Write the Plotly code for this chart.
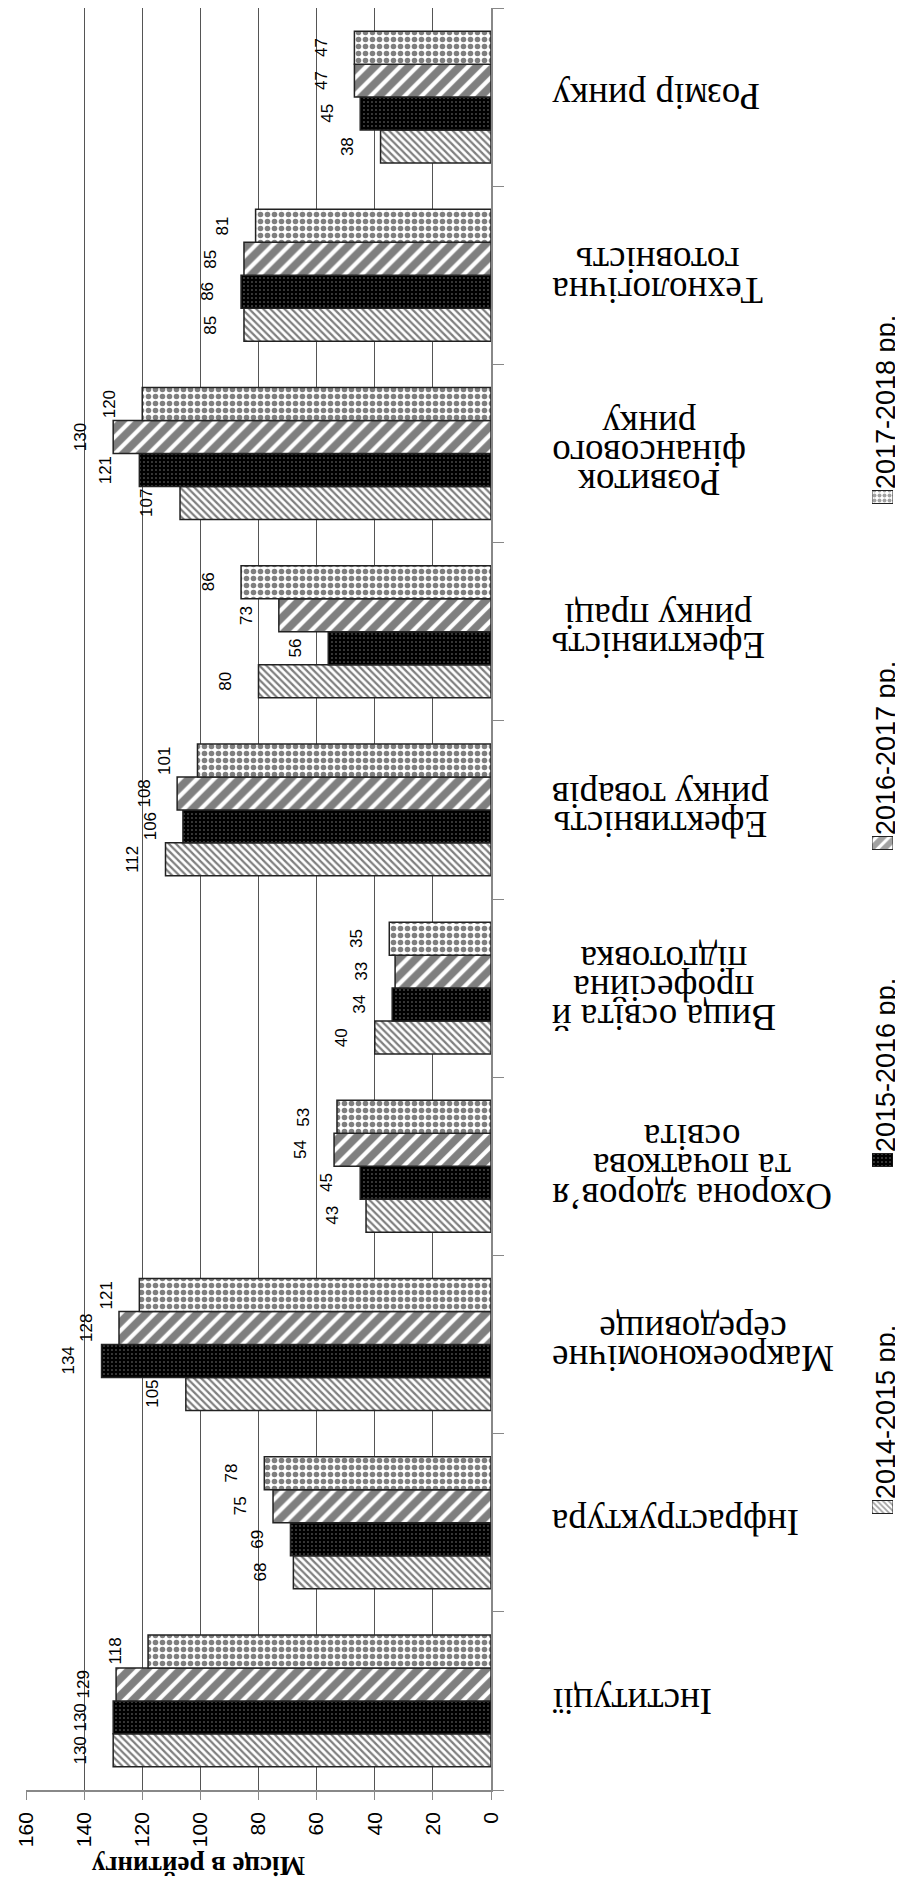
import plotly.graph_objects as go

# categories bottom -> top (the whole chart is turned on its side)
categories = ["Інституції", "Інфраструктура", "Макроекономічне середовище",
              "Охорона здоров’я та початкова освіта", "Вища освіта й професійна підготовка",
              "Ефективність ринку товарів", "Ефективність ринку праці",
              "Розвиток фінансового ринку", "Технологічна готовність", "Розмір ринку"]
cat_lines = [["Інституції"], ["Інфраструктура"], ["Макроекономічне", "середовище"],
             ["Охорона здоров’я", "та початкова", "освіта"],
             ["Вища освіта й", "професійна", "підготовка"],
             ["Ефективність", "ринку товарів"], ["Ефективність", "ринку праці"],
             ["Розвиток", "фінансового", "ринку"], ["Технологічна", "готовність"],
             ["Розмір ринку"]]

series_names = ["2014-2015 рр.", "2015-2016 рр.", "2016-2017 рр.", "2017-2018 рр."]
v2014 = [130, 68, 105, 43, 40, 112, 80, 107, 85, 38]
v2015 = [130, 69, 134, 45, 34, 106, 56, 121, 86, 45]
v2016 = [129, 75, 128, 54, 33, 108, 73, 130, 85, 47]
v2017 = [118, 78, 121, 53, 35, 101, 86, 120, 81, 47]
series_vals = [v2014, v2015, v2016, v2017]

x_ticks = [0, 20, 40, 60, 80, 100, 120, 140, 160]
axis_title = "Місце в рейтингу"

# page layout (page pixels; the html body adds an 8px margin)
OFF = 8
W, H = 903 - OFF, 1886 - OFF
PLOT_L, PLOT_R, PLOT_T, PLOT_B = 26, 491, 8, 1790
LEG_L, LEG_R = 872, 893
ML, MT = PLOT_L - OFF, PLOT_T - OFF
MR = W - (LEG_R - OFF)
MB = H - (PLOT_B - OFF)
PW, PH = W - ML - MR, H - MT - MB
BARGAP = 0.26
SANS = "Liberation Sans, Arial, sans-serif"
SERIF = "Liberation Serif, Times New Roman, serif"


def px_x(p):   # page x -> paper
    return (p - PLOT_L) / PW


def px_y(p):   # page y -> paper
    return (PLOT_B - p) / PH


bar_styles = [
    dict(color="white", pattern=dict(shape="\\", fgcolor="black", bgcolor="white", size=5, solidity=0.45)),
    dict(color="black", pattern=dict(shape=".", fgcolor="white", bgcolor="black", size=4, solidity=0.12)),
    dict(color="white", pattern=dict(shape="/", fgcolor="black", bgcolor="white", size=12, solidity=0.65)),
    dict(color="white", pattern=dict(shape=".", fgcolor="black", bgcolor="white", size=7, solidity=0.5)),
]
key_pos = [1507, 1160, 843, 497]   # legend key centres, page y

fig = go.Figure()
for name, vals, st in zip(series_names, series_vals, bar_styles):
    fig.add_trace(go.Bar(x=vals, y=categories, orientation="h", name=name,
                         marker=dict(color=st["color"], pattern=st["pattern"],
                                     line=dict(color="#222", width=1.5)),
                         showlegend=False))

# legend keys (tiny bars on their own axes)
fig.add_trace(go.Bar(
    x=[1] * 4, y=[px_y(p) for p in key_pos], width=[13 / PH] * 4, orientation="h",
    xaxis="x2", yaxis="y2", showlegend=False,
    marker=dict(color=[s["color"] for s in bar_styles],
                pattern=dict(shape=[s["pattern"]["shape"] for s in bar_styles],
                             fgcolor=[s["pattern"]["fgcolor"] for s in bar_styles],
                             bgcolor=[s["pattern"]["bgcolor"] for s in bar_styles],
                             size=[4, 4, 9, 5],
                             solidity=[s["pattern"]["solidity"] for s in bar_styles]),
                line=dict(color="#222", width=1))))

ann = []
bar_px = PH / len(categories) * (1 - BARGAP) / 4
for i, vals in enumerate(series_vals):
    for c, v in zip(categories, vals):
        ann.append(dict(x=v, y=c, xref="x", yref="y", text=str(v), showarrow=False,
                        textangle=-90, xanchor="center", yanchor="middle",
                        xshift=-33, yshift=(i - 1.5) * bar_px,
                        font=dict(family=SANS, size=17, color="black")))

for c, lines in zip(categories, cat_lines):
    txt = "<br>".join("<span style='font-size:37px'>%s</span>" % l for l in lines)
    ann.append(dict(x=px_x(550), y=c, xref="paper", yref="y", text=txt,
                    showarrow=False, textangle=180, xanchor="left", yanchor="middle",
                    align="center", font=dict(family=SERIF, size=22.5, color="black")))

for name, p in zip(series_names, key_pos):
    ann.append(dict(x=px_x(886), y=px_y(p - 95), xref="paper", yref="paper",
                    text=name, showarrow=False, textangle=-90, xanchor="center",
                    yanchor="middle", font=dict(family=SANS, size=27, color="black")))

ann.append(dict(x=px_x(198), y=px_y(1866), xref="paper", yref="paper",
                text="<b>%s</b>" % axis_title, showarrow=False, textangle=180,
                xanchor="center", yanchor="middle",
                font=dict(family=SERIF, size=27, color="black")))

fig.update_layout(
    width=W, height=H, margin=dict(l=ML, r=MR, t=MT, b=MB),
    paper_bgcolor="white", plot_bgcolor="white",
    barmode="group", bargap=BARGAP, bargroupgap=0,
    annotations=ann,
    xaxis=dict(domain=[0, px_x(PLOT_R)], range=[160, 0], tickvals=x_ticks,
               tickangle=-90, showgrid=True, gridcolor="#555", gridwidth=1,
               zeroline=False, showline=True, linecolor="#888", linewidth=1.5,
               ticks="outside", ticklen=8, tickcolor="#888", ticklabelstandoff=4,
               tickfont=dict(family=SANS, size=21, color="black")),
    yaxis=dict(side="right", range=[-0.5, len(categories) - 0.5], showticklabels=False,
               showgrid=False, zeroline=False, showline=True, linecolor="#888",
               linewidth=1.5, ticks="outside", tickson="boundaries", ticklen=11,
               tickcolor="#888"),
    xaxis2=dict(domain=[px_x(LEG_L), px_x(LEG_R)], anchor="y2", range=[0, 1],
                visible=False),
    yaxis2=dict(domain=[0, 1], anchor="x2", range=[0, 1], visible=False),
)

fig.write_html("out.html")
